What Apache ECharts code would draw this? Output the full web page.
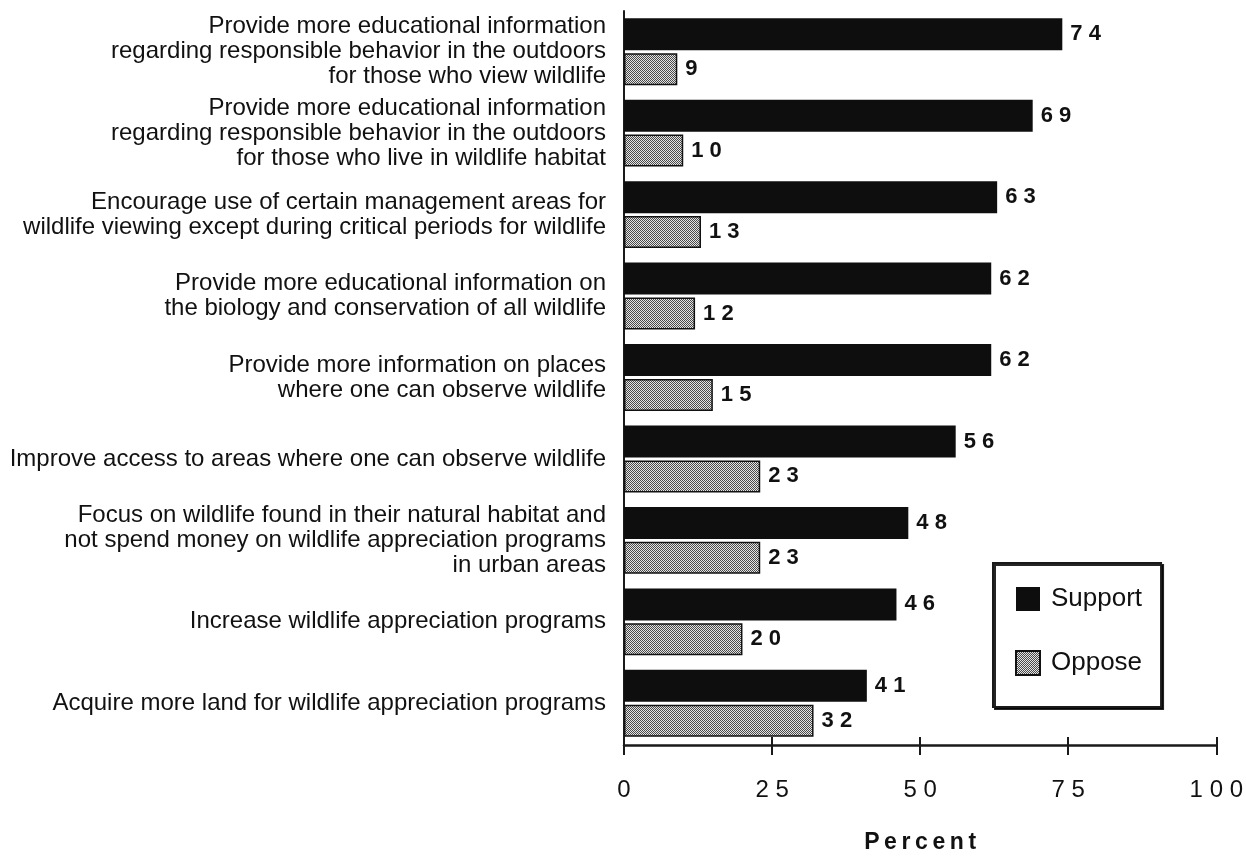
<!DOCTYPE html>
<html>
<head>
<meta charset="utf-8">
<script src="https://cdn.jsdelivr.net/npm/echarts@6/dist/echarts.min.js"></script>
<style>
  html, body { margin: 0; padding: 0; background: #fff; }
  #chart { width: 1246px; height: 859px; }
</style>
</head>
<body>
<div id="chart"></div>
<script>
const categories = [
  "Provide more educational information\nregarding responsible behavior in the outdoors\nfor those who view wildlife",
  "Provide more educational information\nregarding responsible behavior in the outdoors\nfor those who live in wildlife habitat",
  "Encourage use of certain management areas for\nwildlife viewing except during critical periods for wildlife",
  "Provide more educational information on\nthe biology and conservation of all wildlife",
  "Provide more information on places\nwhere one can observe wildlife",
  "Improve access to areas where one can observe wildlife",
  "Focus on wildlife found in their natural habitat and\nnot spend money on wildlife appreciation programs\nin urban areas",
  "Increase wildlife appreciation programs",
  "Acquire more land for wildlife appreciation programs"
];
const supportValues = [74, 69, 63, 62, 62, 56, 48, 46, 41];
const opposeValues  = [9, 10, 13, 12, 15, 23, 23, 20, 32];
const xTicks = [0, 25, 50, 75, 100];

const FONT = "'Liberation Sans', Arial, Helvetica, sans-serif";
const spaced = v => String(v).split('').join(' ');

// checkered fill for the Oppose bars
const pc = document.createElement('canvas');
pc.width = 4; pc.height = 4;
const pctx = pc.getContext('2d');
pctx.fillStyle = '#e4e4e4';
pctx.fillRect(0, 0, 4, 4);
pctx.fillStyle = '#4a4a4a';
for (let y = 0; y < 4; y++) for (let x = 0; x < 4; x++) if ((x + y) % 2 === 0) pctx.fillRect(x, y, 1, 1);
const opposeFill = { image: pc, repeat: 'repeat' };

const chart = echarts.init(document.getElementById('chart'));
const axisCommon = {
  type: 'value', min: xTicks[0], max: xTicks[xTicks.length - 1], interval: 25,
  splitLine: { show: false }
};
chart.setOption({
  animation: false,
  backgroundColor: '#fff',
  grid: { left: 624, right: 29, top: 11, bottom: 107, containLabel: false },
  legend: {
    orient: 'vertical',
    left: 993, top: 563,
    padding: [22, 19, 30, 22],
    itemGap: 36,
    itemWidth: 24, itemHeight: 24,
    icon: 'rect',
    borderColor: '#1a1a1a', borderWidth: 2,
    backgroundColor: '#fff',
    shadowColor: 'rgba(0,0,0,0.85)', shadowOffsetX: 2, shadowOffsetY: 2, shadowBlur: 0,
    textStyle: { fontFamily: FONT, fontSize: 26, color: '#111', padding: [0, 0, 0, 6], lineHeight: 28 },
    data: ['Support', 'Oppose']
  },
  xAxis: [
    Object.assign({}, axisCommon, {
      position: 'bottom', offset: 1,
      name: 'P\u2009e\u2009r\u2009c\u2009e\u2009n\u2009t',
      nameLocation: 'middle', nameGap: 86,
      nameTextStyle: { fontFamily: FONT, fontSize: 23, fontWeight: 'bold', color: '#111' },
      axisLine: { show: true, lineStyle: { color: '#1a1a1a', width: 2.5 } },
      axisTick: { show: true, length: 10, lineStyle: { color: '#1a1a1a', width: 2 } },
      axisLabel: { fontFamily: FONT, fontSize: 24, color: '#111', margin: 33, formatter: v => spaced(v) }
    }),
    Object.assign({}, axisCommon, {
      position: 'bottom', offset: 1,
      axisLine: { show: false },
      axisTick: { show: true, inside: true, length: 8, lineStyle: { color: '#1a1a1a', width: 2 } },
      axisLabel: { show: false }
    })
  ],
  yAxis: {
    type: 'category',
    inverse: true,
    data: categories,
    axisLine: { show: true, lineStyle: { color: '#1a1a1a', width: 2 } },
    axisTick: { show: false },
    axisLabel: { fontFamily: FONT, fontSize: 24, lineHeight: 25, color: '#111', margin: 18, align: 'right' }
  },
  series: [
    {
      name: 'Support', type: 'bar', xAxisIndex: 0,
      data: supportValues,
      barWidth: 32, barGap: '9%',
      itemStyle: { color: '#0e0e0e' },
      label: { show: true, position: 'right', distance: 8, fontFamily: FONT, fontSize: 22, fontWeight: 'bold', color: '#111', formatter: p => spaced(p.value) }
    },
    {
      name: 'Oppose', type: 'bar', xAxisIndex: 0,
      data: opposeValues,
      barWidth: 32, barGap: '9%',
      itemStyle: { color: opposeFill, borderColor: '#111', borderWidth: 1.5 },
      label: { show: true, position: 'right', distance: 8, fontFamily: FONT, fontSize: 22, fontWeight: 'bold', color: '#111', formatter: p => spaced(p.value) }
    }
  ]
});
</script>
</body>
</html>
